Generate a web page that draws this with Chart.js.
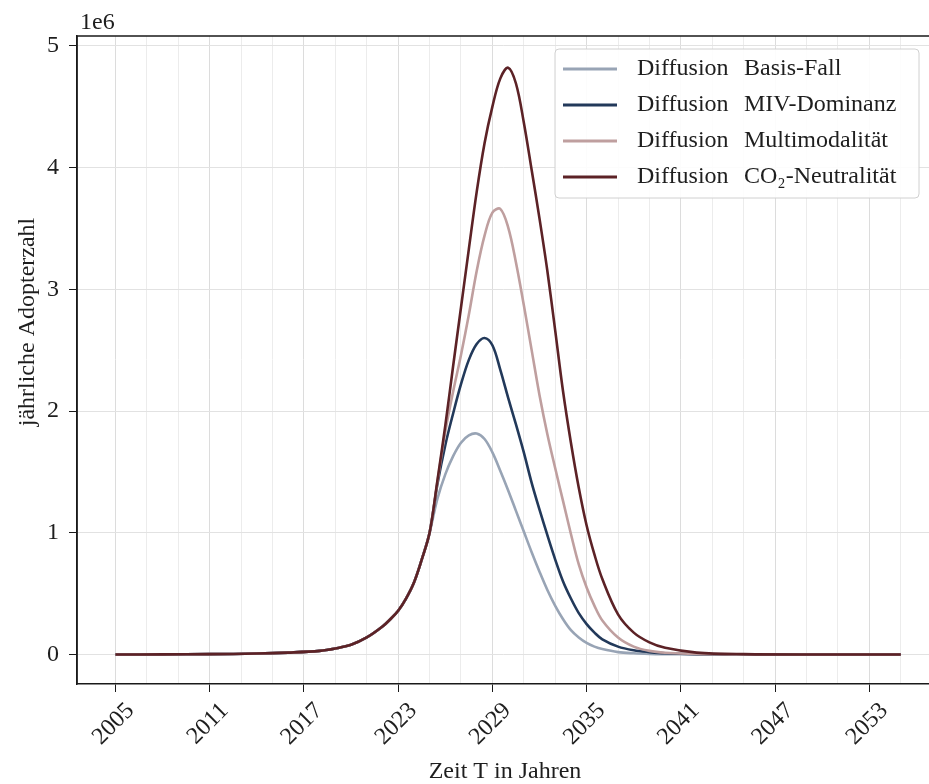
<!DOCTYPE html>
<html>
<head>
<meta charset="utf-8">
<script src="https://cdn.jsdelivr.net/npm/chart.js@4.4.1/dist/chart.umd.min.js"></script>
<style>
  html, body { margin: 0; padding: 0; background: #fff; overflow: hidden; }
  #wrap { width: 929px; height: 784px; }
</style>
</head>
<body>
<div id="wrap"><canvas id="diffChart" width="929" height="784"></canvas></div>
<script>
// Jahre (x) - dichter um den Peak herum
const years = [2005, 2008, 2011, 2014, 2016, 2018, 2019, 2020, 2021,
  2022, 2022.5, 2023, 2023.5, 2024, 2024.5, 2025, 2025.5, 2026, 2026.5, 2027, 2027.5,
  2028, 2028.5, 2029, 2029.5, 2030, 2030.5, 2031, 2031.5, 2032, 2032.5, 2033, 2033.5,
  2034, 2034.5, 2035, 2035.5, 2036, 2037, 2038, 2039, 2040, 2042, 2045, 2050, 2055];

// gemeinsamer Anstieg 2005..2025 (in Mio.)
const common = [0, 0.001, 0.003, 0.008, 0.016, 0.03, 0.05, 0.08, 0.14,
  0.23, 0.29, 0.36, 0.46, 0.59, 0.78, 1.0];

// ab 2025.5 je Szenario (in Mio.)
const basisFall = [1.28, 1.48, 1.63, 1.74, 1.80, 1.815, 1.77, 1.66, 1.51, 1.35, 1.18,
  1.01, 0.84, 0.68, 0.53, 0.40, 0.29, 0.20, 0.14, 0.095, 0.065, 0.045,
  0.02, 0.01, 0.005, 0.003, 0.001, 0, 0, 0];
const mivDominanz = [1.40, 1.72, 1.98, 2.22, 2.42, 2.55, 2.60, 2.54, 2.34, 2.11, 1.89,
  1.66, 1.41, 1.19, 0.98, 0.78, 0.60, 0.46, 0.34, 0.25, 0.18, 0.125,
  0.065, 0.035, 0.02, 0.01, 0.003, 0.001, 0, 0];
const multimodalitaet = [1.42, 1.83, 2.16, 2.46, 2.79, 3.15, 3.44, 3.63, 3.66, 3.51, 3.22,
  2.87, 2.50, 2.13, 1.81, 1.53, 1.26, 0.99, 0.74, 0.55, 0.40, 0.28,
  0.14, 0.065, 0.03, 0.015, 0.004, 0.001, 0, 0];
const co2Neutralitaet = [1.43, 1.88, 2.37, 2.85, 3.33, 3.80, 4.20, 4.50, 4.73, 4.82, 4.69,
  4.37, 3.98, 3.58, 3.15, 2.66, 2.16, 1.74, 1.37, 1.06, 0.82, 0.62,
  0.33, 0.18, 0.10, 0.055, 0.016, 0.003, 0, 0];

const seriesNames = ['Diffusion Basis-Fall', 'Diffusion MIV-Dominanz',
  'Diffusion Multimodalität', 'Diffusion CO₂-Neutralität'];
const seriesColors = ['#98a4b5', '#22395a', '#bf9f9f', '#5c2226'];
const yTicks = [0, 1, 2, 3, 4, 5];

const FONT = '24px "Liberation Serif", "Times New Roman", serif';
const TEXT = '#1e1e1e';

function toPoints(tail) {
  const vals = common.concat(tail);
  return years.map((x, i) => ({ x: x, y: vals[i] }));
}

const allSeries = [basisFall, mivDominanz, multimodalitaet, co2Neutralitaet];

// Rahmen, 1e6, Achsentitel und Legende
const extrasPlugin = {
  id: 'extras',
  afterDraw(chart) {
    const ctx = chart.ctx;
    const a = chart.chartArea;
    ctx.save();
    ctx.strokeStyle = '#1a1a1a';
    ctx.lineWidth = 1.5;
    ctx.beginPath();
    ctx.moveTo(a.right + 2, a.top);
    ctx.lineTo(a.left, a.top);
    ctx.lineTo(a.left, a.bottom);
    ctx.stroke();

    ctx.fillStyle = TEXT;
    ctx.font = FONT;
    ctx.textAlign = 'left';
    ctx.textBaseline = 'alphabetic';
    ctx.fillText('1e6', a.left + 3, a.top - 7);

    ctx.textAlign = 'center';
    ctx.textBaseline = 'middle';
    ctx.fillText('Zeit T in Jahren', 505, 772);

    ctx.save();
    ctx.translate(28, 322);
    ctx.rotate(-Math.PI / 2);
    ctx.fillText('jährliche Adopterzahl', 0, 0);
    ctx.restore();

    // Legende
    const bx = 555, by = 49, bw = 364, bh = 149;
    ctx.beginPath();
    ctx.roundRect(bx, by, bw, bh, 4);
    ctx.fillStyle = 'rgba(255,255,255,0.9)';
    ctx.fill();
    ctx.strokeStyle = '#d0d0d0';
    ctx.lineWidth = 1;
    ctx.stroke();

    ctx.textAlign = 'left';
    ctx.textBaseline = 'middle';
    seriesNames.forEach((name, i) => {
      const y = 69 + i * 36;
      ctx.strokeStyle = seriesColors[i];
      ctx.lineWidth = 2.8;
      ctx.beginPath();
      ctx.moveTo(563, y);
      ctx.lineTo(617, y);
      ctx.stroke();
      const cut = name.indexOf(' ');
      ctx.fillStyle = TEXT;
      ctx.fillText(name.slice(0, cut), 637, y);
      ctx.fillText(name.slice(cut + 1), 744, y);
    });
    ctx.restore();
  }
};

const datasets = allSeries.map((s, i) => ({
  label: seriesNames[i],
  data: toPoints(s),
  borderColor: seriesColors[i],
  borderWidth: 2.6,
  pointRadius: 0,
  fill: false,
  tension: 0.35,
  order: allSeries.length - i
}));

new Chart(document.getElementById('diffChart'), {
  type: 'line',
  data: { datasets: datasets },
  options: {
    responsive: false,
    animation: false,
    devicePixelRatio: 1,
    layout: { padding: { top: 36, right: 0, left: 0, bottom: 0 } },
    plugins: { legend: { display: false }, tooltip: { enabled: false } },
    scales: {
      x: {
        type: 'linear',
        min: 2002.55,
        max: 2056.8,
        afterBuildTicks: (scale) => {
          const t = [];
          for (let v = 2005; v <= 2055; v += 2) t.push({ value: v });
          scale.ticks = t;
        },
        afterFit: (scale) => { scale.height = 100; },
        ticks: {
          autoSkip: false,
          maxRotation: 45,
          minRotation: 45,
          labelOffset: 15,
          padding: 5,
          color: TEXT,
          font: { family: '"Liberation Serif", serif', size: 24 },
          callback: (v) => ((v - 2005) % 6 === 0 ? String(v) : '')
        },
        grid: {
          color: (c) => (c.tick && (c.tick.value - 2005) % 6 === 0 ? '#dcdcdc' : '#ececec'),
          tickColor: (c) => (c.tick && (c.tick.value - 2005) % 6 === 0 ? '#1a1a1a' : 'rgba(0,0,0,0)'),
          tickLength: 8,
          lineWidth: 1
        },
        border: { display: true, color: '#1a1a1a', width: 1.5 }
      },
      y: {
        type: 'linear',
        min: -0.242,
        max: 5.08,
        afterBuildTicks: (scale) => {
          scale.ticks = yTicks.map((v) => ({ value: v }));
        },
        afterFit: (scale) => { scale.width = 77; },
        ticks: {
          padding: 10,
          color: TEXT,
          font: { family: '"Liberation Serif", serif', size: 24 }
        },
        grid: { color: '#e2e2e2', tickColor: '#1a1a1a', tickLength: 8 },
        border: { display: true, color: '#1a1a1a', width: 1.5 }
      }
    }
  },
  plugins: [extrasPlugin]
});
</script>
</body>
</html>
